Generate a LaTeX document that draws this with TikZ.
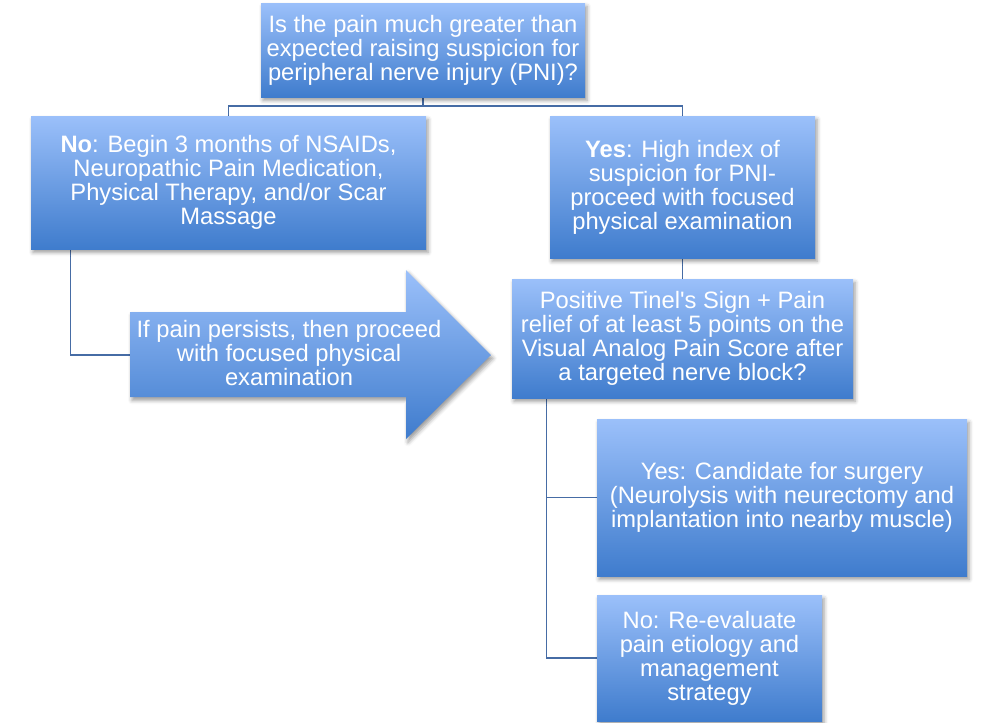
\documentclass[tikz,border=0pt]{standalone}
\usepackage{fontspec}
\setmainfont{Liberation Sans}
\usetikzlibrary{shadows.blur}
\definecolor{boxtop}{RGB}{155,192,250}
\definecolor{boxbot}{RGB}{63,124,205}
\definecolor{linec}{RGB}{70,108,165}
\pgfdeclarelayer{bg}\pgfsetlayers{bg,main}
\begin{document}
\begin{tikzpicture}[x=0.75pt,y=-0.75pt,
  boxfill/.style={top color=boxtop, bottom color=boxbot,
    blur shadow={shadow xshift=1.5pt, shadow yshift=-2.5pt, shadow blur radius=3pt, shadow opacity=40}},
  box/.style={rectangle, boxfill, text=white, align=center, inner sep=0pt,
    font=\fontsize{17.8}{18}\selectfont},
  txt/.style={text=white, align=center, inner sep=0pt, font=\fontsize{17.8}{18}\selectfont},
  conn/.style={draw=linec, line width=1pt}]
\useasboundingbox (0,0) rectangle (982,722);

\node[box, minimum width=243pt, minimum height=70.5pt] (top) at (423,50)
  {Is the pain much greater than\\expected raising suspicion for\\peripheral nerve injury (PNI)?};
\node[box, minimum width=296.25pt, minimum height=99.75pt] (no) at (228.5,182.5)
  {\textbf{No}: Begin 3 months of NSAIDs,\\Neuropathic Pain Medication,\\Physical Therapy, and/or Scar\\Massage};
\node[box, minimum width=198.75pt, minimum height=106.5pt] (yes) at (682.5,187)
  {\textbf{Yes}: High index of\\suspicion for PNI-\\proceed with focused\\physical examination};
\node[box, minimum width=255.75pt, minimum height=89.25pt] (tinel) at (682.5,338.5)
  {Positive Tinel\textquotesingle s Sign + Pain\\relief of at least 5 points on the\\Visual Analog Pain Score after\\a targeted nerve block?};
\node[box, minimum width=277.5pt, minimum height=117.75pt] (cand) at (782,497.5)
  {Yes: Candidate for surgery\\(Neurolysis with neurectomy and\\implantation into nearby muscle)};
\node[box, minimum width=168.75pt, minimum height=94.5pt] (nob) at (709.5,658)
  {No: Re-evaluate\\pain etiology and\\management\\strategy};

% big arrow
\path[boxfill] (130,312) -- (406,312) -- (406,270) -- (491,355) -- (406,439) -- (406,397) -- (130,397) -- cycle;
\node[txt] (arr) at (289,353)
  {If pain persists, then proceed\\with focused physical\\examination};
\coordinate (arrtail) at (130,355);
\coordinate (bus) at (423,106);

\begin{pgfonlayer}{bg}
\draw[conn] (top.south) -- (bus);
\draw[conn] (no.north) -- (no.north |- bus) -- (yes.north |- bus) -- (yes.north);
\draw[conn] (yes.south) -- (tinel.north);
\draw[conn] ([xshift=30pt]no.south west) |- (arrtail);
\draw[conn] ([xshift=26.25pt]tinel.south west) |- (cand.west);
\draw[conn] ([xshift=26.25pt]tinel.south west) |- (nob.west);
\end{pgfonlayer}
\end{tikzpicture}
\end{document}
